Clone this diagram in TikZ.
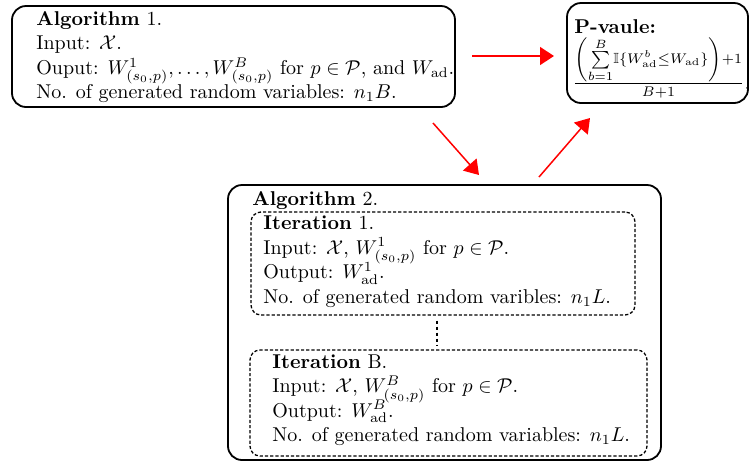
\documentclass[tikz,border=0pt]{standalone}
\usepackage{amsmath,amssymb}
\usetikzlibrary{arrows.meta,calc,fit}
\begin{document}
\begin{tikzpicture}[x=0.5pt,y=-0.5pt,
  solidbox/.style={draw, line width=0.9pt, rounded corners=7pt, inner sep=0pt},
  dashbox/.style={draw, line width=0.65pt, dash pattern=on 1.6pt off 1pt, rounded corners=5pt, inner sep=0pt},
  txt/.style={anchor=north west, align=left, inner sep=0pt,
    font={\fontsize{10}{12.25}\selectfont\lineskiplimit=-20pt}},
  redarrow/.style={draw=red, line width=0.75pt, -{Triangle[length=7pt,width=9pt]}},
  dotline/.style={line width=1pt, dash pattern=on 1.5pt off 1.5pt}]
\useasboundingbox (0,0) rectangle (755,462);

% box corners
\coordinate (b1a) at (12,6);    \coordinate (b1b) at (455,107);
\coordinate (pba) at (567,3);   \coordinate (pbb) at (748,103);
\coordinate (a2a) at (228,185); \coordinate (a2b) at (661,460);
\coordinate (i1a) at (251,212); \coordinate (i1b) at (635,315);
\coordinate (iBa) at (250,350); \coordinate (iBb) at (647,456);

% boxes
\node[solidbox, fit=(b1a)(b1b)] (alg1) {};
\node[solidbox, fit=(pba)(pbb)] (pbox) {};
\node[solidbox, fit=(a2a)(a2b)] (alg2) {};
\node[dashbox, fit=(i1a)(i1b)] (iter1) {};
\node[dashbox, fit=(iBa)(iBb)] (iterB) {};

% texts
\node[txt] (alg1t) at (36,11) {\textbf{Algorithm} 1.\\
Input: $\mathcal{X}$.\\
Ouput: $W^1_{(s_0,p)},\ldots,W^B_{(s_0,p)}$ for $p\in\mathcal{P}$, and $W_{\mathrm{ad}}$.\\
No. of generated random variables: $n_1B$.};

\node[anchor=base west, inner sep=0pt] (pt) at (574,33) {\textbf{P-vaule:}};
\node[anchor=base west, inner sep=0pt, font={\fontsize{10.5}{12}\selectfont}] (pf) at (572,89)
  {$\frac{\left(\vcenter{\hbox{\fontsize{12.5}{14}\selectfont$\scriptstyle\sum\limits_{b=1}^{B}$}}\mathbb{I}\{W^b_{\mathrm{ad}}\le W_{\mathrm{ad}}\}\right)+1}{B+1}$.};

\node[txt] (alg2t) at (252,191.5) {\textbf{Algorithm} 2.};

\node[txt] (iter1t) at (263,215.5) {\textbf{Iteration} 1.\\
Input: $\mathcal{X}$, $W^1_{(s_0,p)}$ for $p\in\mathcal{P}$.\\
Output: $W^1_{\mathrm{ad}}$.\\
No. of generated random varibles: $n_1L$.};

\node[txt] (iterBt) at (272,354) {\textbf{Iteration} B.\\
Input: $\mathcal{X}$, $W^B_{(s_0,p)}$ for $p\in\mathcal{P}$.\\
Output: $W^B_{\mathrm{ad}}$.\\
No. of generated random variables: $n_1L$.};

% connectors
\coordinate (a1s) at (472,56);
\coordinate (a1e) at (554,56);
\coordinate (a2s) at (433,123);
\coordinate (a2e) at (479,175);
\coordinate (a3s) at (539,177);
\coordinate (a3e) at (590,118);
\draw[redarrow] (a1s) -- (a1e);
\draw[redarrow] (a2s) -- (a2e);
\draw[redarrow] (a3s) -- (a3e);

\coordinate (dx) at (437,0);
\draw[dotline] ($(dx |- iter1.south)+(0,5)$) -- ($(dx |- iterB.north)+(0,-3)$);
\end{tikzpicture}
\end{document}
